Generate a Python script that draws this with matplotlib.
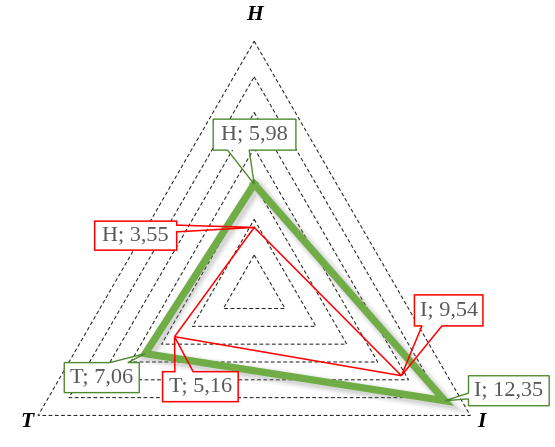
import numpy as np
import matplotlib
matplotlib.use("Agg")
import matplotlib.pyplot as plt
from matplotlib.patches import Polygon
from matplotlib.transforms import IdentityTransform

# ---- data ----
axes_names = ["H", "I", "T"]
series_a = [5.98, 12.35, 7.06]   # green series
series_b = [3.55, 9.54, 5.16]    # red series
grid_levels = [2, 4, 6, 8, 10, 12, 14]
label_a = ["H; 5,98", "I; 12,35", "T; 7,06"]
label_b = ["H; 3,55", "I; 9,54", "T; 5,16"]

# ---- layout ----
W, H = 555, 447
DPI = 100
fig = plt.figure(figsize=(W / DPI, H / DPI), dpi=DPI)
ax = fig.add_axes([0, 0, 1, 1])
ax.set_axis_off()

cx, cy, scale = 254.2, 290.7, 17.82  # center (image px) and px per unit
ax.set_xlim(-cx / scale, (W - cx) / scale)
ax.set_ylim(-(H - cy) / scale, cy / scale)

angles = np.deg2rad([90, -30, 210])


def xy(vals):
    v = np.asarray(vals, dtype=float)
    return v * np.cos(angles), v * np.sin(angles)


# grid triangles
for lev in grid_levels:
    gx, gy = xy([lev] * 3)
    ax.plot(np.append(gx, gx[0]), np.append(gy, gy[0]), color="#222222",
            lw=0.75, ls=(0, (3.6, 2.4)), zorder=1)

# axis labels
lab_r = [15.45, 14.7, 14.7]
for name, a, r in zip(axes_names, angles, lab_r):
    ax.text(r * np.cos(a), r * np.sin(a), name, ha="center", va="center",
            fontsize=15.5, fontweight="bold", fontstyle="italic",
            family="Liberation Serif", color="black", zorder=5)

# green series with soft shadow
ax_, ay_ = xy(series_a)
px = np.append(ax_, ax_[0])
py = np.append(ay_, ay_[0])
for w, al in [(12, 0.05), (10, 0.07), (8, 0.09), (6, 0.12)]:
    ax.plot(px + 0.15, py - 0.15, color="#7f7f7f", lw=w, alpha=al,
            solid_joinstyle="miter", zorder=2)
ax.plot(px, py, color="#70AD47", lw=5.2, solid_joinstyle="miter", zorder=3)

# red series
bx_, by_ = xy(series_b)
ax.plot(np.append(bx_, bx_[0]), np.append(by_, by_[0]), color="#FF0000",
        lw=1.1, solid_joinstyle="miter", zorder=4)

# ---- callouts (offsets in image pixels: dx right, dy down) ----
# (box x0, x1, y0, y1, side, tail a, tail b)
green_boxes = [
    (-41, 41.7, -65, -34, "bottom", -26.6, -5.0),
    (23.7, 104.4, -25, 5, "left", -7.6, -1.9),
    (-81, -6, 9, 39, "top", -35.4, -17.4),
]
red_boxes = [
    (-159.5, -77.5, -6.3, 22.7, "right", -2.3, 4.4),
    (13, 81.5, -80.8, -49.8, "bottom", 20.5, 40.5),
    (-12, 63.6, 35, 65, "top", 0.3, 18.6),
]

fig.canvas.draw()


def callout(xd, yd, spec, text, ec, lw):
    tx, ty = ax.transData.transform((xd, yd))  # display coords (y up)
    x0, x1, y0, y1, side, ta, tb = spec
    L, R = tx + x0, tx + x1
    T, B = ty - y0, ty - y1
    tip = (tx, ty)
    if side == "bottom":
        pts = [(L, T), (R, T), (R, B), (tx + tb, B), tip, (tx + ta, B), (L, B)]
    elif side == "top":
        pts = [(L, T), (tx + ta, T), tip, (tx + tb, T), (R, T), (R, B), (L, B)]
    elif side == "left":
        pts = [(L, T), (R, T), (R, B), (L, B), (L, ty - tb), tip, (L, ty - ta)]
    else:  # right
        pts = [(L, T), (R, T), (R, ty - ta), tip, (R, ty - tb), (R, B), (L, B)]
    rect = Polygon([(L, T), (R, T), (R, B), (L, B)], closed=True,
                   transform=IdentityTransform(), facecolor="white",
                   edgecolor="none", zorder=6)
    fig.add_artist(rect)
    outline = Polygon(pts, closed=True, transform=IdentityTransform(),
                      facecolor="none", edgecolor=ec, lw=lw,
                      joinstyle="miter", zorder=7)
    fig.add_artist(outline)
    fig.text((L + R) / 2 / W, (T + B) / 2 / H, text, ha="center",
             va="center", fontsize=16, family="Liberation Serif",
             color="#595959", zorder=8)


for xd, yd, spec, t in zip(ax_, ay_, green_boxes, label_a):
    callout(xd, yd, spec, t, "#4E8A2E", 1.0)
for xd, yd, spec, t in zip(bx_, by_, red_boxes, label_b):
    callout(xd, yd, spec, t, "#FF0000", 1.1)

fig.savefig("out.png", dpi=DPI, facecolor="white")
